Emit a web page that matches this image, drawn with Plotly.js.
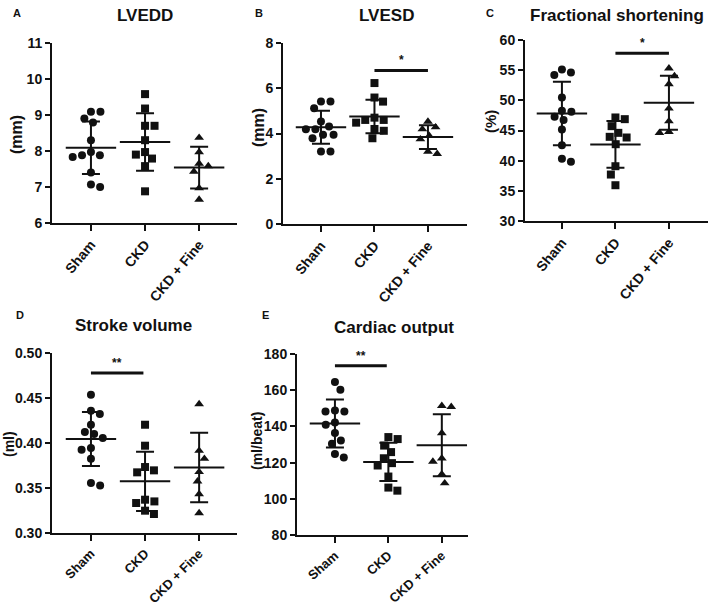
<!DOCTYPE html>
<html><head><meta charset="utf-8">
<script src="https://cdn.plot.ly/plotly-3.0.1.min.js"></script>
<style>html,body{margin:0;padding:0;background:#fff}#chart{width:709px;height:606px}</style>
</head><body><div id="chart"></div>
<script>
// ---------- DATA ----------
const groups = ["Sham", "CKD", "CKD + Fine"];

// A: LVEDD (mm)
const lveddSham = [9.09, 9.09, 8.90, 8.79, 8.30, 7.97, 7.88, 7.88, 7.83, 7.40, 7.07, 7.00];
const lveddCkd  = [9.58, 9.18, 8.70, 8.70, 8.30, 7.97, 7.90, 7.79, 7.58, 6.88];
const lveddFine = [8.37, 7.97, 7.65, 7.58, 7.43, 6.97, 6.65];
const lveddMean = [8.09, 8.25, 7.54];
const lveddSd   = [0.73, 0.80, 0.58];
const lveddTicks = [6, 7, 8, 9, 10, 11];

// B: LVESD (mm)
const lvesdSham = [5.41, 5.41, 5.12, 4.53, 4.31, 4.19, 4.19, 3.94, 3.94, 3.79, 3.20, 3.20];
const lvesdCkd  = [6.23, 5.59, 5.41, 4.70, 4.60, 4.60, 4.48, 4.20, 4.12, 3.79];
const lvesdFine = [4.53, 4.28, 4.19, 3.90, 3.75, 3.20, 3.10];
const lvesdMean = [4.28, 4.75, 3.84];
const lvesdSd   = [0.73, 0.74, 0.53];
const lvesdTicks = [0, 2, 4, 6, 8];
const lvesdSig = {from: 1, to: 2, level: 6.79, label: "*"};

// C: Fractional shortening (%)
const fsSham = [55.13, 54.63, 54.19, 50.48, 48.27, 48.10, 47.27, 46.72, 45.17, 42.57, 40.30, 39.80];
const fsCkd  = [47.16, 46.88, 45.72, 44.61, 43.95, 43.84, 42.73, 39.08, 37.70, 35.93];
const fsFine = [55.30, 54.02, 52.69, 48.66, 46.55, 44.78, 44.61];
const fsMean = [47.8, 42.7, 49.6];
const fsSd   = [5.26, 3.87, 4.46];
const fsTicks = [30, 35, 40, 45, 50, 55, 60];
const fsSig = {from: 1, to: 2, level: 57.8, label: "*"};

// D: Stroke volume (ml)
const svSham = [0.4537, 0.4359, 0.4322, 0.4203, 0.4122, 0.4100, 0.4056, 0.3944, 0.3926, 0.3826, 0.3556, 0.3529];
const svCkd  = [0.4203, 0.3970, 0.3733, 0.3696, 0.3674, 0.3370, 0.3351, 0.3333, 0.3248, 0.3211];
const svFine = [0.4433, 0.3914, 0.3826, 0.3678, 0.3574, 0.3433, 0.3222];
const svMean = [0.4044, 0.3574, 0.3729];
const svSd   = [0.030, 0.033, 0.0386];
const svTicks = [0.30, 0.35, 0.40, 0.45, 0.50];
const svTickText = ["0.30", "0.35", "0.40", "0.45", "0.50"];
const svSig = {from: 0, to: 0.97, level: 0.4778, label: "**"};

// E: Cardiac output (ml/beat)
const coSham = [164.5, 160.2, 148.8, 148.2, 148.2, 142.2, 140.9, 136.3, 132.2, 130.4, 124.7, 122.8];
const coCkd  = [134.1, 133.0, 129.4, 125.8, 122.4, 119.7, 118.4, 112.3, 106.2, 104.5];
const coFine = [151.4, 150.8, 136.3, 122.4, 120.6, 113.6, 108.6];
const coMean = [141.6, 120.4, 129.6];
const coSd   = [13.3, 10.6, 17.1];
const coTicks = [80, 100, 120, 140, 160, 180];
const coSig = {from: 0, to: 0.97, level: 173.5, label: "**"};

// ---------- LAYOUT HELPERS ----------
const W = 709, H = 606;
const FONT = "Liberation Sans, Arial, Helvetica, sans-serif";
const INK = "#111111";

function swarm(vals, pxPerX, pxPerY, d) {
  const idx = vals.map((v, i) => i).sort((a, b) => vals[b] - vals[a]);
  const placed = [];
  const out = new Array(vals.length);
  let lastSign = -1;
  for (const i of idx) {
    const y = vals[i] * pxPerY;
    const iv = [];
    for (const p of placed) {
      const dy = Math.abs(p.y - y);
      if (dy < d) { const h = Math.sqrt(d * d - dy * dy); iv.push([p.x - h, p.x + h]); }
    }
    const cands = [0];
    iv.forEach(([a, b]) => cands.push(a, b));
    const ok = c => iv.every(([a, b]) => c <= a + 1e-6 || c >= b - 1e-6);
    let best = null;
    cands.filter(ok).forEach(c => {
      if (best === null || Math.abs(c) < Math.abs(best) - 1e-6 ||
          (Math.abs(Math.abs(c) - Math.abs(best)) < 1e-6 && Math.sign(c) === -lastSign)) best = c;
    });
    if (best !== 0) lastSign = Math.sign(best);
    placed.push({x: best, y: y});
    out[i] = best / pxPerX;
  }
  return out;
}

const panels = [
  {key: "", sets: [lveddSham, lveddCkd, lveddFine], mean: lveddMean, sd: lveddSd,
   ticks: lveddTicks, tickText: lveddTicks.map(String), yr: [6, 11], xr: [-0.72, 2.70],
   px: [52, 237], py: [43, 223], title: "LVEDD", tpos: [145, 15], letter: "A", lpos: [17, 13],
   ytitle: "(mm)", ytpos: [17, 135], ytSize: 16, sig: null, tickSize: 14, xtSize: 14, xtAngle: -50},
  {key: "2", sets: [lvesdSham, lvesdCkd, lvesdFine], mean: lvesdMean, sd: lvesdSd,
   ticks: lvesdTicks, tickText: lvesdTicks.map(String), yr: [0, 8], xr: [-0.71, 2.73],
   px: [283, 467], py: [43, 224], title: "LVESD", tpos: [386, 15], letter: "B", lpos: [259, 13],
   ytitle: "(mm)", ytpos: [258, 128], ytSize: 16, sig: lvesdSig, tickSize: 14, xtSize: 14, xtAngle: -50},
  {key: "3", sets: [fsSham, fsCkd, fsFine], mean: fsMean, sd: fsSd,
   ticks: fsTicks, tickText: fsTicks.map(String), yr: [30, 60], xr: [-0.69, 2.73],
   px: [525, 708], py: [40, 221], title: "Fractional shortening", tpos: [617, 15], letter: "C", lpos: [490, 13],
   ytitle: "(%)", ytpos: [490, 122], ytSize: 15, sig: fsSig, tickSize: 14, xtSize: 14, xtAngle: -50},
  {key: "4", sets: [svSham, svCkd, svFine], mean: svMean, sd: svSd,
   ticks: svTicks, tickText: svTickText, yr: [0.30, 0.50], xr: [-0.72, 2.70],
   px: [52, 237], py: [353, 533], title: "Stroke volume", tpos: [133, 325], letter: "D", lpos: [20, 315],
   ytitle: "(ml)", ytpos: [9, 444], ytSize: 14, sig: svSig, tickSize: 14, xtSize: 13, xtAngle: -45},
  {key: "5", sets: [coSham, coCkd, coFine], mean: coMean, sd: coSd,
   ticks: coTicks, tickText: coTicks.map(String), yr: [80, 180], xr: [-0.71, 2.49],
   px: [297, 468], py: [354, 535], title: "Cardiac output", tpos: [394, 327], letter: "E", lpos: [265, 315],
   ytitle: "(ml/beat)", ytpos: [257, 441], ytSize: 14, sig: coSig, tickSize: 14, xtSize: 13, xtAngle: -42}
];

const symbols = ["circle", "square", "triangle-up"];
const sizes = [8, 8, 8.5];

const traces = [];
const layout = {
  width: W, height: H, margin: {l: 0, r: 0, t: 0, b: 0},
  paper_bgcolor: "#ffffff", plot_bgcolor: "rgba(0,0,0,0)",
  showlegend: false, hovermode: false,
  font: {family: FONT, color: INK},
  annotations: []
};

function pxX(x) { return x / W; }
function pxY(y) { return 1 - y / H; }

panels.forEach(p => {
  const xa = "x" + p.key, ya = "y" + p.key;
  const xName = "xaxis" + p.key, yName = "yaxis" + p.key;
  const plotW = p.px[1] - p.px[0], plotH = p.py[1] - p.py[0];
  const ppx = plotW / (p.xr[1] - p.xr[0]);
  const ppy = plotH / (p.yr[1] - p.yr[0]);

  layout[xName] = {
    domain: [pxX(p.px[0]), pxX(p.px[1])], range: p.xr, anchor: ya,
    showline: true, linewidth: 2, linecolor: INK, showgrid: false, zeroline: false,
    ticks: "outside", ticklen: 6, tickwidth: 2, tickcolor: INK,
    tickvals: [0, 1, 2], ticktext: groups, tickangle: p.xtAngle,
    tickfont: {family: FONT, size: p.xtSize, color: INK, weight: 700}, fixedrange: true
  };
  layout[yName] = {
    domain: [pxY(p.py[1]), pxY(p.py[0])], range: p.yr, anchor: xa,
    showline: true, linewidth: 2, linecolor: INK, showgrid: false, zeroline: false,
    ticks: "outside", ticklen: 5, tickwidth: 2, tickcolor: INK,
    tickvals: p.ticks, ticktext: p.tickText,
    tickfont: {family: FONT, size: p.tickSize, color: INK, weight: 700}, fixedrange: true
  };

  p.sets.forEach((vals, g) => {
    const off = swarm(vals, ppx, ppy, 9.5);
    traces.push({
      type: "scatter", mode: "markers", xaxis: xa, yaxis: ya, cliponaxis: false,
      x: vals.map((v, i) => g + off[i]), y: vals,
      marker: {symbol: symbols[g], size: sizes[g], color: INK, line: {width: 0}}
    });
  });

  traces.push({
    type: "scatter", mode: "markers", xaxis: xa, yaxis: ya, cliponaxis: false,
    x: [0, 1, 2], y: p.mean,
    marker: {symbol: "line-ew", size: 36, color: INK, line: {width: 2, color: INK}},
    error_y: {type: "data", array: p.sd, visible: true, width: 9, thickness: 2, color: INK}
  });

  if (p.sig) {
    traces.push({
      type: "scatter", mode: "lines", xaxis: xa, yaxis: ya, cliponaxis: false,
      x: [p.sig.from, p.sig.to], y: [p.sig.level, p.sig.level],
      line: {color: INK, width: 3}
    });
    layout.annotations.push({
      xref: xa, yref: ya, x: (p.sig.from + p.sig.to) / 2, y: p.sig.level,
      text: p.sig.label, showarrow: false, xanchor: "center", yanchor: "bottom", yshift: 1,
      font: {family: FONT, size: 12, color: INK, weight: 700}
    });
  }

  layout.annotations.push({
    xref: "paper", yref: "paper", x: pxX(p.tpos[0]), y: pxY(p.tpos[1]),
    text: p.title, showarrow: false, xanchor: "center", yanchor: "middle",
    font: {family: FONT, size: 17, color: INK, weight: 700}
  });
  layout.annotations.push({
    xref: "paper", yref: "paper", x: pxX(p.lpos[0]), y: pxY(p.lpos[1]),
    text: p.letter, showarrow: false, xanchor: "center", yanchor: "middle",
    font: {family: FONT, size: 11, color: INK, weight: 700}
  });
  layout.annotations.push({
    xref: "paper", yref: "paper", x: pxX(p.ytpos[0]), y: pxY(p.ytpos[1]),
    text: p.ytitle, showarrow: false, xanchor: "center", yanchor: "middle", textangle: -90,
    font: {family: FONT, size: p.ytSize, color: INK, weight: 700}
  });
});

Plotly.newPlot("chart", traces, layout, {staticPlot: true, displayModeBar: false});
</script>
</body></html>
